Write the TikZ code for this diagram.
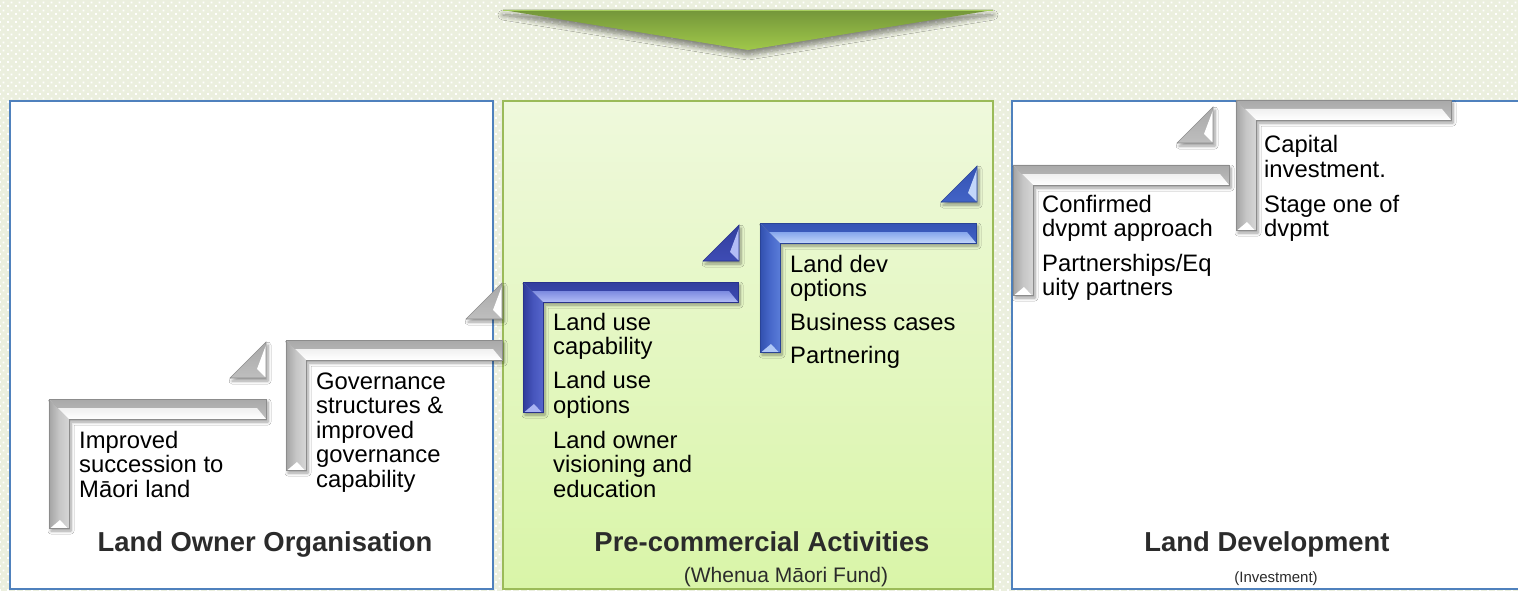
\documentclass[tikz,border=0pt]{standalone}
\usepackage{fontspec}
\setmainfont{Liberation Sans}
\usetikzlibrary{shadows.blur,patterns.meta}

% page and panels
\definecolor{pagebg}{HTML}{EBEFDE}
\definecolor{panelblue}{HTML}{4F81BD}
\definecolor{panelgreen}{HTML}{9BBB59}
\definecolor{greentop}{HTML}{EFF9DC}
\definecolor{greenbot}{HTML}{D9F5A8}
\definecolor{titlegray}{HTML}{2B2B2B}
% banner arrow
\definecolor{arrowtop}{HTML}{74963A}
\definecolor{arrowbot}{HTML}{A0C84A}
\definecolor{arrowedge}{HTML}{A8D060}
% grey steps
\definecolor{gO}{HTML}{8C8C8C}
\definecolor{gT1}{HTML}{A9A9A9}
\definecolor{gT2}{HTML}{BEBEBE}
\definecolor{gB1}{HTML}{F0F0F0}
\definecolor{gB2}{HTML}{FFFFFF}
\definecolor{gV1}{HTML}{A4A4A4}
\definecolor{gV2}{HTML}{C6C6C6}
\definecolor{gV3}{HTML}{D6D6D6}
\definecolor{gF}{HTML}{FFFFFF}
% deep blue steps
\definecolor{bO}{HTML}{28328C}
\definecolor{bT1}{HTML}{323E9E}
\definecolor{bT2}{HTML}{3E4CB4}
\definecolor{bB1}{HTML}{7C8BE0}
\definecolor{bB2}{HTML}{B2BCF6}
\definecolor{bV1}{HTML}{2F3B9A}
\definecolor{bV2}{HTML}{4655BC}
\definecolor{bV3}{HTML}{5666CC}
\definecolor{bF}{HTML}{A9B3F3}
% lighter blue steps
\definecolor{cO}{HTML}{2A4496}
\definecolor{cT1}{HTML}{3553B4}
\definecolor{cT2}{HTML}{4263C6}
\definecolor{cB1}{HTML}{86A6EC}
\definecolor{cB2}{HTML}{C2D6FA}
\definecolor{cV1}{HTML}{3250AE}
\definecolor{cV2}{HTML}{4768CA}
\definecolor{cV3}{HTML}{5A7CD8}
\definecolor{cF}{HTML}{B0C8F6}

\tikzdeclarepattern{
  name=bgdots,
  type=uncolored,
  bounding box={(0pt,0pt) and (8pt,8pt)},
  tile size={(8pt,8pt)},
  code={
    \fill (0pt,0pt) rectangle (2pt,2pt);
    \fill (4pt,4pt) rectangle (6pt,6pt);
  }
}

\newcommand\bodysize{\fontsize{23.8}{24.5}\selectfont}

\tikzset{
  stairshadow/.style={blur shadow={shadow xshift=2pt, shadow yshift=-3pt,
      shadow blur radius=3pt, shadow blur steps=6, shadow opacity=40}},
  arrowshadow/.style={blur shadow={shadow xshift=0pt, shadow yshift=-5pt,
      shadow blur radius=5pt, shadow blur steps=8, shadow opacity=45}},
  panel/.style={draw=panelblue, line width=1.4pt, fill=white},
  greenpanel/.style={draw=panelgreen, line width=1.4pt, top color=greentop, bottom color=greenbot},
  body/.style={anchor=base west, inner sep=0pt, font=\bodysize, text=black},
  title/.style={anchor=base, inner sep=0pt, font=\bfseries\fontsize{27.4}{30}\selectfont, text=titlegray},
  subtitle/.style={anchor=base, inner sep=0pt, text=titlegray},
}

% L-shaped bevelled step: #1,#2 outer top-left corner, #3 right end of the tread,
% #4 foot of the riser, #5 colour set
\newcommand\stairL[5]{%
  \path[stairshadow] (#1,#2) -- (#3,#2) -- (#3,{#2+20}) -- ({#1+20},{#2+20})
      -- ({#1+20},#4) -- (#1,#4) -- cycle;
  \shade[left color=#5V1, right color=#5V3, middle color=#5V2]
      (#1,#2) -- ({#1+20},{#2+20}) -- ({#1+20},#4) -- (#1,#4) -- cycle;
  \shade[top color=#5T1, bottom color=#5T2]
      (#1,#2) -- (#3,#2) -- (#3,{#2+20}) -- ({#1+20},{#2+20}) -- cycle;
  \shade[top color=#5B1, bottom color=#5B2]
      ({#1+9},{#2+9}) -- ({#3-9},{#2+9}) -- (#3,{#2+20}) -- ({#1+20},{#2+20}) -- cycle;
  \fill[#5F] ({#1+1.5},#4) -- ({#1+18.5},#4) -- ({#1+11},{#4-8}) -- cycle;
  \draw[#5O, line width=0.6pt, line join=miter]
      (#1,#2) -- (#3,#2) -- (#3,{#2+20}) -- ({#1+20},{#2+20})
      -- ({#1+20},#4) -- (#1,#4) -- cycle;
}

% small bevelled triangle: #1,#2 right-angle corner (bottom right), #3 colour set
\newcommand\stairtip[3]{%
  \path[stairshadow] ({#1-36},#2) -- (#1,#2) -- (#1,{#2-36}) -- cycle;
  \shade[top color=#3T1, bottom color=#3T2]
      ({#1-36},#2) -- (#1,#2) -- (#1,{#2-36}) -- cycle;
  \fill[#3B2] (#1,{#2-33}) -- (#1,#2) -- ({#1-9},{#2-9}) -- cycle;
  \draw[#3O, line width=0.6pt, line join=miter]
      ({#1-36},#2) -- (#1,#2) -- (#1,{#2-36}) -- cycle;
}

\begin{document}
\begin{tikzpicture}[x=1pt,y=-1pt]
  \useasboundingbox (0,0) rectangle (1518,591);

  % dotted page background
  \fill[pagebg] (0,0) rectangle (1518,591);
  \fill[pattern=bgdots, pattern color=white] (0,0) rectangle (1518,591);

  % banner arrow
  \path[arrowshadow] (503,10) -- (993,10) -- (748,50) -- cycle;
  \shade[top color=arrowtop, bottom color=arrowbot] (503,10) -- (993,10) -- (748,50) -- cycle;
  \draw[arrowedge, line width=1.5pt] (503,10.5) -- (993,10.5);

  % three stage panels
  \draw[panel] (10,101) rectangle (493,589);
  \draw[greenpanel] (503,101) rectangle (993,589);
  \draw[panel] (1012,101) rectangle (1530,589);

  % stairs
  \stairtip{266}{378}{g}
  \stairL{49}{399}{266}{528}{g}
  \stairtip{502}{319}{g}
  \stairL{286}{340}{502}{470}{g}
  \stairtip{739}{261}{b}
  \stairL{523}{282}{738}{412}{b}
  \stairtip{977}{202}{c}
  \stairL{760}{223}{976}{352}{c}
  \stairtip{1213}{143}{g}
  \stairL{1013}{165}{1229}{295}{g}
  \stairL{1236}{100}{1451}{230}{g}

  % step texts
  \node[body] (s1a) at (79,448) {Improved};
  \node[body] (s1b) at (79,472.5) {succession to};
  \node[body] (s1c) at (79,497) {Māori land};

  \node[body] (s2a) at (316,389) {Governance};
  \node[body] (s2b) at (316,413.5) {structures \&};
  \node[body] (s2c) at (316,438) {improved};
  \node[body] (s2d) at (316,462.5) {governance};
  \node[body] (s2e) at (316,487) {capability};

  \node[body] (s3a) at (553,330) {Land use};
  \node[body] (s3b) at (553,354.5) {capability};
  \node[body] (s3c) at (553,388.5) {Land use};
  \node[body] (s3d) at (553,413) {options};
  \node[body] (s3e) at (553,448) {Land owner};
  \node[body] (s3f) at (553,472.5) {visioning and};
  \node[body] (s3g) at (553,497) {education};

  \node[body] (s4a) at (790,272) {Land dev};
  \node[body] (s4b) at (790,296.5) {options};
  \node[body] (s4c) at (790,330) {Business cases};
  \node[body] (s4d) at (790,363) {Partnering};

  \node[body] (s5a) at (1042,212) {Confirmed};
  \node[body] (s5b) at (1042,236.5) {dvpmt approach};
  \node[body] (s5c) at (1042,271) {Partnerships/Eq};
  \node[body] (s5d) at (1042,295) {uity partners};

  \node[body] (s6a) at (1264,153) {Capital};
  \node[body] (s6b) at (1264,177.5) {investment.};
  \node[body] (s6c) at (1264,212) {Stage one of};
  \node[body] (s6d) at (1264,236.5) {dvpmt};

  % panel titles
  \node[title] (t1) at (265,551) {Land Owner Organisation};
  \node[title] (t2) at (762,551) {Pre-commercial Activities};
  \node[subtitle, font=\fontsize{21}{24}\selectfont] (t2s) at (786,582) {(Whenua Māori Fund)};
  \node[title] (t3) at (1267,551) {Land Development};
  \node[subtitle, font=\fontsize{15}{18}\selectfont] (t3s) at (1276,582) {(Investment)};
\end{tikzpicture}
\end{document}
